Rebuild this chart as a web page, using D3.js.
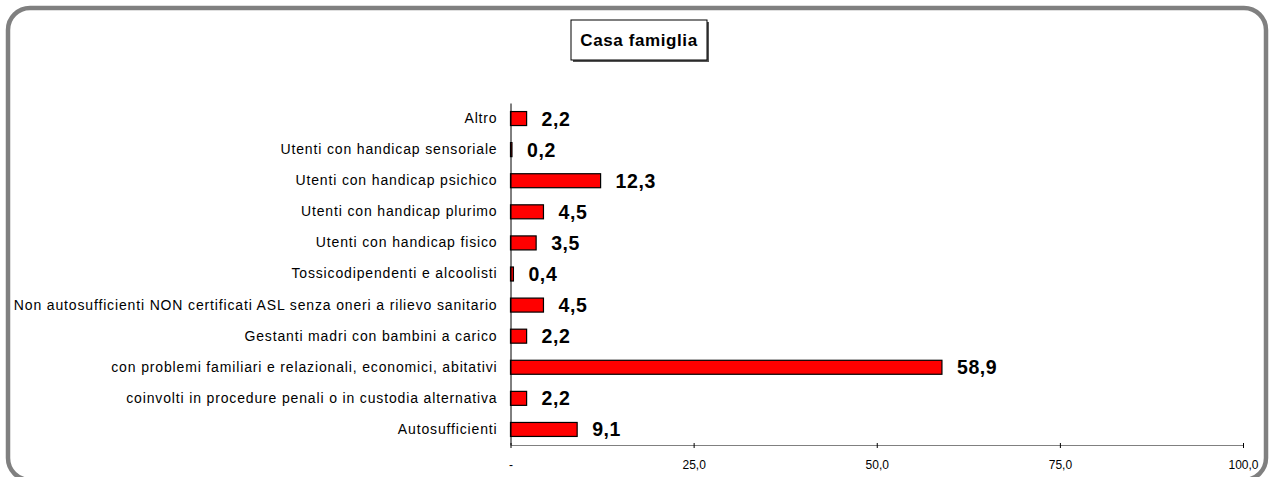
<!DOCTYPE html>
<html>
<head>
<meta charset="utf-8">
<script src="https://cdn.jsdelivr.net/npm/d3@7"></script>
<style>
  html, body { margin: 0; padding: 0; background: #fff; }
  svg { display: block; font-family: Arial, "Liberation Sans", sans-serif; }
</style>
</head>
<body>
<svg id="chart" width="1272" height="477"></svg>
<script>
// Categories from top to bottom
const categories = [
  "Altro",
  "Utenti con handicap sensoriale",
  "Utenti con handicap psichico",
  "Utenti con handicap plurimo",
  "Utenti con handicap fisico",
  "Tossicodipendenti e alcoolisti",
  "Non autosufficienti NON certificati ASL senza oneri a rilievo sanitario",
  "Gestanti madri con bambini a carico",
  "con problemi familiari e relazionali, economici, abitativi",
  "coinvolti in procedure penali o in custodia alternativa",
  "Autosufficienti"
];
const values = [2.2, 0.2, 12.3, 4.5, 3.5, 0.4, 4.5, 2.2, 58.9, 2.2, 9.1];
const tickValues = [0, 25, 50, 75, 100];
const tickLabels = ["-", "25,0", "50,0", "75,0", "100,0"];
const title = "Casa famiglia";

const svg = d3.select("#chart");

// Rounded outer frame
svg.append("rect")
  .attr("x", 8).attr("y", 8)
  .attr("width", 1258).attr("height", 472)
  .attr("rx", 22).attr("ry", 22)
  .attr("fill", "#fff")
  .attr("stroke", "#808080")
  .attr("stroke-width", 4.5);

// Title box with shadow
const tb = { x: 571, y: 20, w: 136, h: 40 };
svg.append("rect")
  .attr("x", tb.x + 2).attr("y", tb.y + 2)
  .attr("width", tb.w).attr("height", tb.h)
  .attr("fill", "#555");
svg.append("rect")
  .attr("x", tb.x).attr("y", tb.y)
  .attr("width", tb.w).attr("height", tb.h)
  .attr("fill", "#fff").attr("stroke", "#000").attr("stroke-width", 1);
svg.append("text")
  .attr("x", tb.x + tb.w / 2).attr("y", tb.y + tb.h / 2 + 6)
  .attr("text-anchor", "middle")
  .attr("font-size", 17).attr("font-weight", "bold")
  .attr("letter-spacing", 0.6)
  .text(title);

// Scales
const x = d3.scaleLinear().domain([0, 100]).range([510.5, 1243]);
const y = d3.scaleBand().domain(categories).range([103, 445]).paddingInner(0.55).paddingOuter(0.275);

// Bars
svg.append("g").selectAll("rect")
  .data(values)
  .join("rect")
  .attr("x", x(0))
  .attr("y", (d, i) => y(categories[i]))
  .attr("width", d => x(d) - x(0))
  .attr("height", y.bandwidth())
  .attr("fill", "#ff0000")
  .attr("stroke", "#000")
  .attr("stroke-width", 1.2);

// Value labels
svg.append("g").selectAll("text")
  .data(values)
  .join("text")
  .attr("x", d => x(d) + 15)
  .attr("y", (d, i) => y(categories[i]) + y.bandwidth() / 2 + 7)
  .attr("font-size", 19.5).attr("font-weight", "bold")
  .attr("letter-spacing", 0.6)
  .text(d => d.toFixed(1).replace(".", ","));

// Category axis
const yAxis = d3.axisLeft(y).tickSize(0).tickPadding(13);
const gy = svg.append("g").attr("transform", `translate(${x(0)},0)`).call(yAxis);
gy.select(".domain").attr("stroke", "#000");
gy.selectAll("text").attr("font-size", 14).attr("fill", "#000")
  .attr("letter-spacing", 0.85)
  .attr("font-family", "Arial, 'Liberation Sans', sans-serif");

// Value axis
const xAxis = d3.axisBottom(x).tickValues(tickValues)
  .tickFormat((d, i) => tickLabels[i]).tickSize(5).tickSizeOuter(0).tickPadding(10);
const gx = svg.append("g").attr("transform", "translate(0,445)").call(xAxis);
gx.select(".domain").attr("stroke", "#808080");
gx.selectAll(".tick line").attr("stroke", "#000").attr("transform", "translate(0,-2)");
gx.selectAll("text").attr("font-size", 12).attr("fill", "#000")
  .attr("font-family", "Arial, 'Liberation Sans', sans-serif");
</script>
</body>
</html>
